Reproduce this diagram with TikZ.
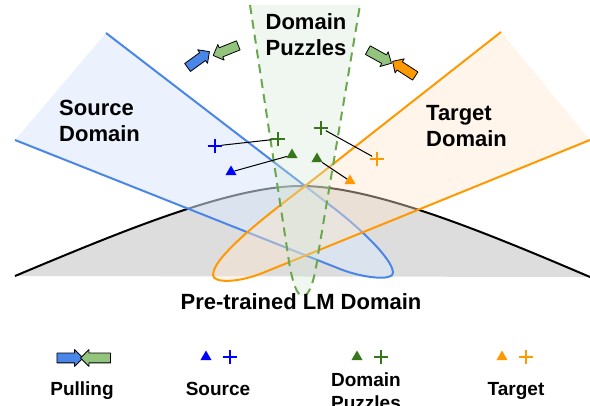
\documentclass[tikz,border=0pt]{standalone}
\usepackage{fontspec}
\setmainfont{Liberation Sans}
\usetikzlibrary{shapes.geometric,shapes.arrows,shapes.misc}

\definecolor{srcblue}{HTML}{4A86E8}
\definecolor{srcfill}{HTML}{DAE8FC}
\definecolor{tgtorange}{HTML}{FF9900}
\definecolor{tgtfill}{HTML}{FFE6CC}
\definecolor{pzlgreen}{HTML}{6AA84F}
\definecolor{pzlfill}{HTML}{D5E8D4}
\definecolor{pzldark}{HTML}{38761D}
\definecolor{pullgreen}{HTML}{93C47D}
\definecolor{bellgray}{HTML}{DDDDDD}
\definecolor{ptblue}{HTML}{0000FF}

\begin{document}
\begin{tikzpicture}[x=1pt,y=-1pt,line join=round,
  lbl/.style={font=\fontsize{22}{26}\selectfont\bfseries, inner sep=0pt},
  leg/.style={font=\fontsize{19}{23}\selectfont\bfseries, inner sep=0pt},
  ptri/.style={regular polygon, regular polygon sides=3, fill=#1, inner sep=0pt, minimum size=13pt},
  pplus/.style={cross out, draw=#1, line width=2.1pt, inner sep=0pt, minimum size=8.5pt, rotate=45},
  blk/.style={single arrow, draw=black, line width=0.8pt, fill=#1, inner xsep=0pt, inner ysep=4.5pt, minimum height=27pt, single arrow head extend=3.5pt},
  link/.style={draw=black, line width=1pt}]
\useasboundingbox (0,0) rectangle (590,406);

% pre-trained LM domain
\fill[bellgray] (15,276) .. controls (120,232) and (230,186) .. (301,186) .. controls (372,186) and (480,230) .. (590,277) -- cycle;
\draw[line width=2pt] (15,276) .. controls (120,232) and (230,186) .. (301,186) .. controls (372,186) and (480,230) .. (590,277);

% source, target and puzzle domains
\filldraw[fill=srcfill, fill opacity=0.55, draw=srcblue, line width=2pt] (106,33) -- (335,209) .. controls (354.8,224.3) and (393,258) .. (393,273) .. controls (393,281) and (363.2,278.2) .. (340,269) -- (15,140);
\filldraw[fill=tgtfill, fill opacity=0.42, draw=tgtorange, line width=2pt] (501,32) -- (300,190) .. controls (276.4,208.5) and (213,255) .. (213,275) .. controls (213,283) and (237.3,283.6) .. (265,272) -- (590,140);
\filldraw[fill=pzlfill, fill opacity=0.35, draw=pzlgreen, line width=2pt, dash pattern=on 9pt off 6pt] (250,5) -- (288,255) .. controls (292,283) and (297,296) .. (303,296) .. controls (309,296) and (314,283) .. (318,255) -- (360,5);

\node[lbl, anchor=north west, align=left] (src) at (59,100) {Source\\Domain};
\node[lbl, anchor=north west, align=left] (tgt) at (426,105) {Target\\Domain};
\node[lbl, anchor=north, align=center] (pzl) at (306,13) {Domain\\Puzzles};
\node[lbl, anchor=north] (lm) at (301,293) {Pre-trained LM Domain};

% samples
\node[pplus=ptblue] (bp) at (215,146) {};
\node[pplus=pzldark] (gp1) at (278,139) {};
\node[ptri=ptblue] (bt) at (231,172) {};
\node[ptri=pzldark] (gt1) at (292,155) {};
\node[pplus=pzldark] (gp2) at (321,128) {};
\node[pplus=tgtorange] (op) at (377,159) {};
\node[ptri=pzldark] (gt2) at (317,159) {};
\node[ptri=tgtorange] (ot) at (350,181) {};
\draw[link] (bp) -- (gp1);
\draw[link] (gt1) -- (bt);
\draw[link] (gp2) -- (op);
\draw[link] (gt2) -- (ot);

% pulling arrows
\node[blk=srcblue, rotate=36] (pb) at (196.5,61) {};
\node[blk=pullgreen, rotate=202] (pgl) at (228,49.5) {};
\node[blk=pullgreen, rotate=-29] (pgr) at (377.5,55.5) {};
\node[blk=tgtorange, rotate=147] (po) at (406,70) {};

% legend
\node[blk=srcblue, minimum height=26pt] (lpb) at (67.5,358) {};
\node[blk=pullgreen, minimum height=30pt, rotate=180] (lpg) at (98,358) {};
\node[leg, anchor=north] (lpull) at (82,382) {Pulling};
\node[ptri=ptblue] (lbt) at (206,357) {};
\node[pplus=ptblue] (lbp) at (230,357) {};
\node[leg, anchor=north] (lsrc) at (218,382) {Source};
\node[ptri=pzldark] (lgt) at (357,357) {};
\node[pplus=pzldark] (lgp) at (381,357) {};
\node[leg, anchor=north, align=center] (lpzl) at (366,373) {Domain\\Puzzles};
\node[ptri=tgtorange] (lot) at (502,357) {};
\node[pplus=tgtorange] (lop) at (526,357) {};
\node[leg, anchor=north] (ltgt) at (516,382) {Target};
\end{tikzpicture}
\end{document}
